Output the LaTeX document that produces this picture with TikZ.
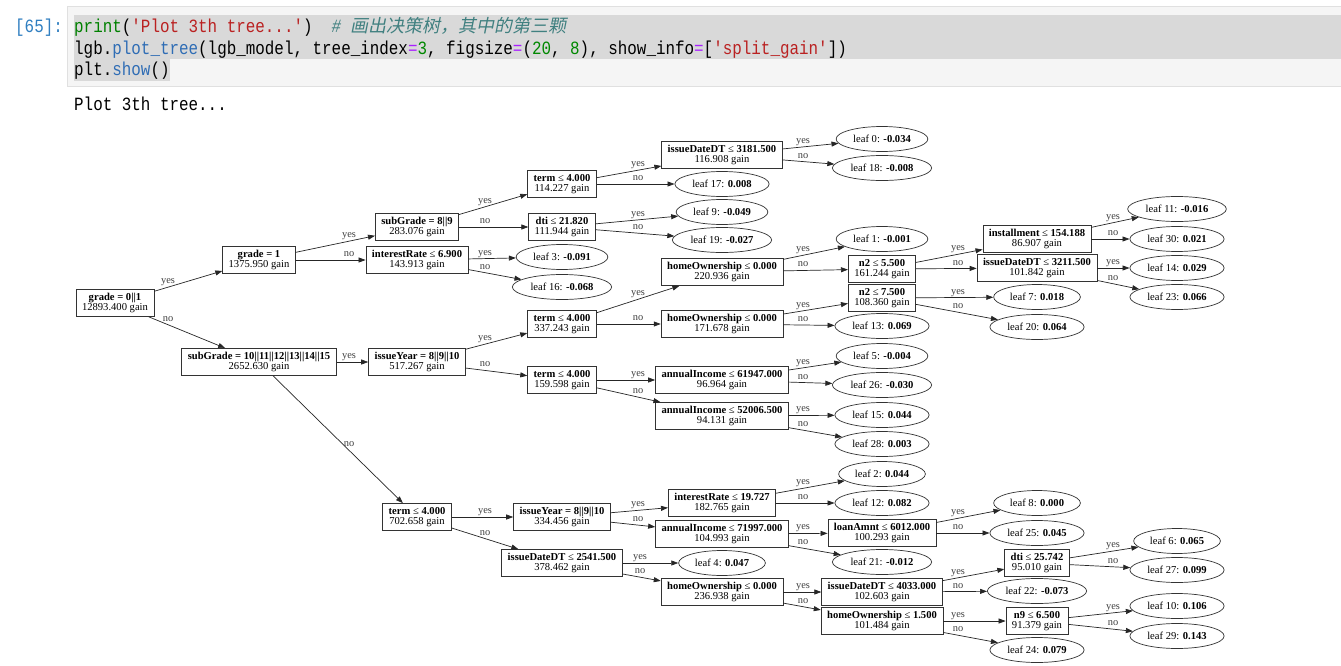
\documentclass[tikz,border=0pt]{standalone}
\usepackage{fontspec}
\setmainfont{Liberation Serif}
\newfontfamily\codefont[FakeStretch=0.85]{Liberation Mono}
\newfontfamily\cjkfont[FakeSlant=0.2]{Noto Sans CJK SC}
\usetikzlibrary{arrows.meta,shapes.geometric,calc}

\definecolor{cellBg}{HTML}{F5F5F5}
\definecolor{cellBorder}{HTML}{E0E0E0}
\definecolor{selGray}{HTML}{D9D9D9}
\definecolor{promptBlue}{HTML}{307FC1}
\definecolor{kwGreen}{HTML}{008000}
\definecolor{numGreen}{HTML}{008800}
\definecolor{strRed}{HTML}{BA2121}
\definecolor{cmtTeal}{HTML}{408080}
\definecolor{propBlue}{HTML}{2F6DB5}
\definecolor{opPurple}{HTML}{AA22FF}

\tikzset{
  cond/.style={rectangle, draw=black!80, line width=0.7pt, align=center,
    minimum height=27pt, inner xsep=6pt, inner ysep=1pt,
    font=\fontsize{10.6}{10.6}\selectfont},
  leafnode/.style={ellipse, draw=black!80, line width=0.7pt,
    minimum height=25pt, inner xsep=3.6pt, inner ysep=0pt,
    font=\fontsize{10.6}{10.6}\selectfont},
  link/.style={->, draw=black!85, line width=0.7pt},
  answer/.style={anchor=base, yshift=3.5pt, inner sep=0pt, text=black!75,
    font=\fontsize{10.4}{11}\selectfont},
  code/.style={anchor=base west, inner sep=0pt,
    font=\codefont\fontsize{18.7}{22}\selectfont},
}

% edge from #1 to #2, label #3 written at x = #4
\newcommand\branch[4]{%
  \draw[link] (#1) -- (#2);
  \path let \p1=(#1.center), \p2=(#2.center) in
    node[answer] at ({#4pt},{\y1+(\y2-\y1)/(\x2-\x1)*(#4pt-\x1)}) {#3};
}

\begin{document}
\begin{tikzpicture}[x=1pt, y=-1pt, >={Triangle[length=7pt,width=5pt]}]
  \useasboundingbox[fill=white] (0,0) rectangle (1341,666);

  % notebook cell
  \fill[cellBg] (67,7) rectangle (1341,87);
  \draw[cellBorder, line width=1pt] (1341,7) -- (67,7) -- (67,87) -- (1341,87);
  \fill[selGray] (74,15) rectangle (1341,59);
  \fill[selGray] (74,59) rectangle (170,81);

  \node[code, text=promptBlue] (prompt) at (15,33) {[65]:};
  \node[code] (codeOne) at (74,33) {\textcolor{kwGreen}{print}(\textcolor{strRed}{'Plot 3th tree...'})~~\textcolor{cmtTeal}{\itshape\#~{\upshape\cjkfont\fontsize{18}{22}\selectfont 画出决策树，其中的第三颗}}};
  \node[code] (codeTwo) at (74,55) {lgb.\textcolor{propBlue}{plot\_tree}(lgb\_model, tree\_index\textcolor{opPurple}{=}\textcolor{numGreen}{3}, figsize\textcolor{opPurple}{=}(\textcolor{numGreen}{20}, \textcolor{numGreen}{8}), show\_info\textcolor{opPurple}{=}[\textcolor{strRed}{'split\_gain'}])};
  \node[code] (codeThree) at (74,76) {plt.\textcolor{propBlue}{show}()};
  \node[code] (stdout) at (74,111) {Plot 3th tree...};

  % tree, column by column
  \node[cond] (root) at (115,303) {\textbf{grade = 0||1}\\12893.400 gain};

  \node[cond] (gradeOne) at (259,260) {\textbf{grade = 1}\\1375.950 gain};
  \node[cond] (subGradeHi) at (259,362) {\textbf{subGrade = 10||11||12||13||14||15}\\2652.630 gain};

  \node[cond] (subGradeLo) at (417,227) {\textbf{subGrade = 8||9}\\283.076 gain};
  \node[cond] (rateLo) at (417,260) {\textbf{interestRate} ≤ \textbf{6.900}\\143.913 gain};
  \node[cond] (yearA) at (417,362) {\textbf{issueYear = 8||9||10}\\517.267 gain};
  \node[cond] (termD) at (417,517) {\textbf{term} ≤ \textbf{4.000}\\702.658 gain};

  \node[cond] (termA) at (562,184) {\textbf{term} ≤ \textbf{4.000}\\114.227 gain};
  \node[cond] (dtiA) at (562,227) {\textbf{dti} ≤ \textbf{21.820}\\111.944 gain};
  \node[leafnode] (leaf3) at (562,257) {leaf 3: \textbf{-0.091}};
  \node[leafnode] (leaf16) at (562,287) {leaf 16: \textbf{-0.068}};
  \node[cond] (termB) at (562,324) {\textbf{term} ≤ \textbf{4.000}\\337.243 gain};
  \node[cond] (termC) at (562,380) {\textbf{term} ≤ \textbf{4.000}\\159.598 gain};
  \node[cond] (yearB) at (562,517) {\textbf{issueYear = 8||9||10}\\334.456 gain};
  \node[cond] (dateB) at (562,563) {\textbf{issueDateDT} ≤ \textbf{2541.500}\\378.462 gain};

  \node[cond] (dateA) at (722,155) {\textbf{issueDateDT} ≤ \textbf{3181.500}\\116.908 gain};
  \node[leafnode] (leaf17) at (722,184) {leaf 17: \textbf{0.008}};
  \node[leafnode] (leaf9) at (722,212) {leaf 9: \textbf{-0.049}};
  \node[leafnode] (leaf19) at (722,240) {leaf 19: \textbf{-0.027}};
  \node[cond] (homeA) at (722,272) {\textbf{homeOwnership} ≤ \textbf{0.000}\\220.936 gain};
  \node[cond] (homeB) at (722,324) {\textbf{homeOwnership} ≤ \textbf{0.000}\\171.678 gain};
  \node[cond] (incomeA) at (722,380) {\textbf{annualIncome} ≤ \textbf{61947.000}\\96.964 gain};
  \node[cond] (incomeB) at (722,416) {\textbf{annualIncome} ≤ \textbf{52006.500}\\94.131 gain};
  \node[cond] (rateHi) at (722,503) {\textbf{interestRate} ≤ \textbf{19.727}\\182.765 gain};
  \node[cond] (incomeC) at (722,534) {\textbf{annualIncome} ≤ \textbf{71997.000}\\104.993 gain};
  \node[leafnode] (leaf4) at (722,563) {leaf 4: \textbf{0.047}};
  \node[cond] (homeC) at (722,592) {\textbf{homeOwnership} ≤ \textbf{0.000}\\236.938 gain};

  \node[leafnode] (leaf0) at (882,139) {leaf 0: \textbf{-0.034}};
  \node[leafnode] (leaf18) at (882,168) {leaf 18: \textbf{-0.008}};
  \node[leafnode] (leaf1) at (882,239) {leaf 1: \textbf{-0.001}};
  \node[cond] (nTwoA) at (882,269) {\textbf{n2} ≤ \textbf{5.500}\\161.244 gain};
  \node[cond] (nTwoB) at (882,298) {\textbf{n2} ≤ \textbf{7.500}\\108.360 gain};
  \node[leafnode] (leaf13) at (882,326) {leaf 13: \textbf{0.069}};
  \node[leafnode] (leaf5) at (882,356) {leaf 5: \textbf{-0.004}};
  \node[leafnode] (leaf26) at (882,385) {leaf 26: \textbf{-0.030}};
  \node[leafnode] (leaf15) at (882,415) {leaf 15: \textbf{0.044}};
  \node[leafnode] (leaf28) at (882,444) {leaf 28: \textbf{0.003}};
  \node[leafnode] (leaf2) at (882,474) {leaf 2: \textbf{0.044}};
  \node[leafnode] (leaf12) at (882,503) {leaf 12: \textbf{0.082}};
  \node[cond] (loan) at (882,533) {\textbf{loanAmnt} ≤ \textbf{6012.000}\\100.293 gain};
  \node[leafnode] (leaf21) at (882,562) {leaf 21: \textbf{-0.012}};
  \node[cond] (dateD) at (882,592) {\textbf{issueDateDT} ≤ \textbf{4033.000}\\102.603 gain};
  \node[cond] (homeD) at (882,621) {\textbf{homeOwnership} ≤ \textbf{1.500}\\101.484 gain};

  \node[cond] (install) at (1037,239) {\textbf{installment} ≤ \textbf{154.188}\\86.907 gain};
  \node[cond] (dateC) at (1037,268) {\textbf{issueDateDT} ≤ \textbf{3211.500}\\101.842 gain};
  \node[leafnode] (leaf7) at (1037,297) {leaf 7: \textbf{0.018}};
  \node[leafnode] (leaf20) at (1037,327) {leaf 20: \textbf{0.064}};
  \node[leafnode] (leaf8) at (1037,503) {leaf 8: \textbf{0.000}};
  \node[leafnode] (leaf25) at (1037,533) {leaf 25: \textbf{0.045}};
  \node[cond] (dtiB) at (1037,563) {\textbf{dti} ≤ \textbf{25.742}\\95.010 gain};
  \node[leafnode] (leaf22) at (1037,591) {leaf 22: \textbf{-0.073}};
  \node[cond] (nNine) at (1037,621) {\textbf{n9} ≤ \textbf{6.500}\\91.379 gain};
  \node[leafnode] (leaf24) at (1037,650) {leaf 24: \textbf{0.079}};

  \node[leafnode] (leaf11) at (1177,209) {leaf 11: \textbf{-0.016}};
  \node[leafnode] (leaf30) at (1177,239) {leaf 30: \textbf{0.021}};
  \node[leafnode] (leaf14) at (1177,268) {leaf 14: \textbf{0.029}};
  \node[leafnode] (leaf23) at (1177,297) {leaf 23: \textbf{0.066}};
  \node[leafnode] (leaf6) at (1177,541) {leaf 6: \textbf{0.065}};
  \node[leafnode] (leaf27) at (1177,570) {leaf 27: \textbf{0.099}};
  \node[leafnode] (leaf10) at (1177,606) {leaf 10: \textbf{0.106}};
  \node[leafnode] (leaf29) at (1177,636) {leaf 29: \textbf{0.143}};

  % branches
  \branch{root}{gradeOne}{yes}{168}
  \branch{root}{subGradeHi}{no}{168}

  \branch{gradeOne}{subGradeLo}{yes}{349}
  \branch{gradeOne}{rateLo}{no}{349}
  \branch{subGradeHi}{yearA}{yes}{349}
  \branch{subGradeHi}{termD}{no}{349}

  \branch{subGradeLo}{termA}{yes}{485}
  \branch{subGradeLo}{dtiA}{no}{485}
  \branch{rateLo}{leaf3}{yes}{485}
  \branch{rateLo}{leaf16}{no}{485}
  \branch{yearA}{termB}{yes}{485}
  \branch{yearA}{termC}{no}{485}
  \branch{termD}{yearB}{yes}{485}
  \branch{termD}{dateB}{no}{485}

  \branch{termA}{dateA}{yes}{638}
  \branch{termA}{leaf17}{no}{638}
  \branch{dtiA}{leaf9}{yes}{638}
  \branch{dtiA}{leaf19}{no}{638}
  \branch{termB}{homeA}{yes}{638}
  \branch{termB}{homeB}{no}{638}
  \branch{termC}{incomeA}{yes}{638}
  \branch{termC}{incomeB}{no}{638}
  \branch{yearB}{rateHi}{yes}{638}
  \branch{yearB}{incomeC}{no}{638}
  \branch{dateB}{leaf4}{yes}{640}
  \branch{dateB}{homeC}{no}{640}

  \branch{dateA}{leaf0}{yes}{803}
  \branch{dateA}{leaf18}{no}{803}
  \branch{homeA}{leaf1}{yes}{803}
  \branch{homeA}{nTwoA}{no}{803}
  \branch{homeB}{nTwoB}{yes}{803}
  \branch{homeB}{leaf13}{no}{803}
  \branch{incomeA}{leaf5}{yes}{803}
  \branch{incomeA}{leaf26}{no}{803}
  \branch{incomeB}{leaf15}{yes}{803}
  \branch{incomeB}{leaf28}{no}{803}
  \branch{rateHi}{leaf2}{yes}{803}
  \branch{rateHi}{leaf12}{no}{803}
  \branch{incomeC}{loan}{yes}{803}
  \branch{incomeC}{leaf21}{no}{803}
  \branch{homeC}{dateD}{yes}{803}
  \branch{homeC}{homeD}{no}{803}

  \branch{nTwoA}{install}{yes}{958}
  \branch{nTwoA}{dateC}{no}{958}
  \branch{nTwoB}{leaf7}{yes}{958}
  \branch{nTwoB}{leaf20}{no}{958}
  \branch{loan}{leaf8}{yes}{958}
  \branch{loan}{leaf25}{no}{958}
  \branch{dateD}{dtiB}{yes}{958}
  \branch{dateD}{leaf22}{no}{958}
  \branch{homeD}{nNine}{yes}{958}
  \branch{homeD}{leaf24}{no}{958}

  \branch{install}{leaf11}{yes}{1113}
  \branch{install}{leaf30}{no}{1113}
  \branch{dateC}{leaf14}{yes}{1113}
  \branch{dateC}{leaf23}{no}{1113}
  \branch{dtiB}{leaf6}{yes}{1113}
  \branch{dtiB}{leaf27}{no}{1113}
  \branch{nNine}{leaf10}{yes}{1113}
  \branch{nNine}{leaf29}{no}{1113}
\end{tikzpicture}
\end{document}
